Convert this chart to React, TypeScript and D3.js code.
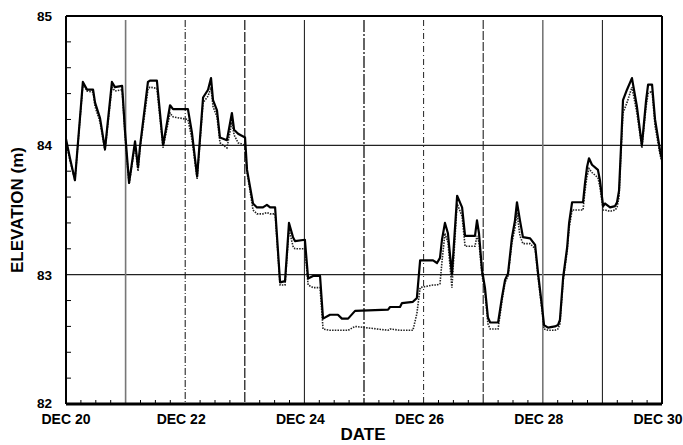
import React from 'react';
import * as d3 from 'd3';

// hours since DEC 20 00:00
const hours = [
  0, 1.6, 3.6, 6.8, 8.5, 10.9, 11.7, 13.7, 15.7, 18.5, 19.7, 22.6, 23.8, 25.4, 27.8, 29.0, 29.8,
  33.0, 33.8, 36.6, 39.1, 41.9, 43.1, 49.1, 50.7, 52.8, 55.2, 57.2, 58.4, 59.2, 60.8, 62.0, 64.8,
  66.8, 67.7, 69.3, 72.1, 72.9, 74.1, 75.3, 76.9, 79.3, 80.9, 82.2, 84.2, 86.2, 88.2, 89.8, 91.4,
  92.2, 96.2, 97.5, 99.5, 102.3, 103.5, 106.3, 109.5, 111.1, 113.6, 116.4, 129.7, 130.5, 134.5,
  135.3, 139.7, 141.3, 142.6, 147.8, 149.4, 150.6, 151.4, 152.6, 153.8, 155.4, 157.5, 159.5, 160.7,
  164.7, 165.5, 166.3, 167.5, 168.7, 169.9, 170.8, 174.0, 175.6, 176.8, 178.0, 179.6, 180.8, 181.6,
  182.8, 184.0, 186.9, 188.9, 190.1, 191.7, 192.5, 194.1, 196.9, 198.1, 198.9, 200.2, 201.8, 202.6,
  203.8, 208.2, 209.0, 209.8, 210.6, 211.8, 214.2, 215.0, 216.3, 217.1, 219.1, 221.1, 221.9, 222.7,
  223.5, 224.3, 225.9, 227.9, 229.9, 231.9, 233.6, 234.4, 236.0, 237.2, 239.2, 240.0,
];

const solidElev = [
  84.05, 83.9, 83.73, 84.49, 84.43, 84.43, 84.33, 84.21, 83.97, 84.49, 84.45, 84.46, 84.1, 83.71, 84.03, 83.83, 83.99,
  84.49, 84.5, 84.5, 84.0, 84.31, 84.28, 84.28, 84.1, 83.76, 84.37, 84.43, 84.52, 84.35, 84.27, 84.06, 84.04,
  84.25, 84.12, 84.09, 84.06, 83.81, 83.68, 83.55, 83.52, 83.52, 83.54, 83.52, 83.52, 82.94, 82.95, 83.4, 83.29,
  83.26, 83.27, 82.97, 82.99, 82.99, 82.66, 82.69, 82.69, 82.66, 82.66, 82.72, 82.73, 82.75, 82.75,
  82.78, 82.79, 82.82, 83.11, 83.11, 83.09, 83.13, 83.27, 83.4, 83.32, 83.0, 83.61, 83.52, 83.3,
  83.3, 83.42, 83.32, 83.04, 82.9, 82.67, 82.63, 82.63, 82.83, 82.96, 83.01, 83.29, 83.42, 83.56,
  83.42, 83.29, 83.28, 83.23, 83.01, 82.75, 82.61, 82.59, 82.6, 82.61, 82.65, 82.98, 83.21, 83.4,
  83.56, 83.56, 83.71, 83.83, 83.9, 83.85, 83.81, 83.73, 83.53, 83.55, 83.52, 83.53, 83.56, 83.65,
  83.99, 84.35, 84.43, 84.52, 84.3, 84.0, 84.35, 84.47, 84.47, 84.2, 83.96, 83.89,
];

const dottedElev = [
  84.03, 83.88, 83.73, 84.47, 84.42, 84.41, 84.3, 84.18, 83.96, 84.45, 84.42, 84.43, 84.07, 83.7, 84.0, 83.8, 83.97,
  84.43, 84.45, 84.44, 83.98, 84.25, 84.22, 84.2, 84.05, 83.74, 84.33, 84.38, 84.45, 84.3, 84.22, 84.02, 83.98,
  84.18, 84.08, 84.02, 84.0, 83.79, 83.65, 83.5, 83.47, 83.47, 83.48, 83.47, 83.47, 82.92, 82.92, 83.35, 83.22,
  83.2, 83.2, 82.92, 82.9, 82.9, 82.58, 82.57, 82.57, 82.57, 82.57, 82.6, 82.57, 82.58, 82.57,
  82.57, 82.57, 82.7, 82.9, 82.92, 82.92, 82.93, 83.1, 83.32, 83.25, 82.9, 83.55, 83.45, 83.22,
  83.22, 83.3, 83.25, 83.0, 82.87, 82.62, 82.58, 82.58, 82.8, 82.94, 82.99, 83.25, 83.36, 83.48,
  83.3, 83.24, 83.24, 83.2, 82.98, 82.72, 82.58, 82.57, 82.57, 82.58, 82.62, 82.95, 83.18, 83.36,
  83.5, 83.5, 83.65, 83.76, 83.82, 83.79, 83.75, 83.68, 83.5, 83.5, 83.49, 83.5, 83.52, 83.6,
  83.95, 84.25, 84.33, 84.45, 84.25, 83.98, 84.3, 84.4, 84.42, 84.15, 83.93, 83.87,
];

const yTickValues = [82, 83, 84, 85];
const dateTickHours = [0, 48, 96, 144, 192, 240];
const dateTickLabels = ['DEC 20', 'DEC 22', 'DEC 24', 'DEC 26', 'DEC 28', 'DEC 30'];
const dayLineHours = [24, 48, 72, 96, 120, 144, 168, 192, 216];
const dayLineStyles = [
  { stroke: '#777', dash: '', w: 1.6 },
  { stroke: '#111', dash: '7,2,1,2', w: 1 },
  { stroke: '#111', dash: '10,2', w: 1.2 },
  { stroke: '#111', dash: '', w: 1 },
  { stroke: '#111', dash: '12,2,2,2', w: 1.3 },
  { stroke: '#222', dash: '6,3,1,3', w: 1 },
  { stroke: '#222', dash: '9,2', w: 1.1 },
  { stroke: '#777', dash: '', w: 1.6 },
  { stroke: '#111', dash: '', w: 1 },
];
const gridElev = [83, 84];

const L = 66, R = 662, T = 16, B = 404;

export default function App() {
  const x = d3.scaleLinear().domain([0, 240]).range([L, R]);
  const y = d3.scaleLinear().domain([82, 85]).range([B, T]);
  const line = d3.line<number>().x((_, i) => x(hours[i])).y((d) => y(d));
  const minorY = d3.range(82, 85.001, 0.2).filter((v) => Math.abs(v - Math.round(v)) > 0.01);
  const minorX = d3.range(6, 240, 6).filter((h) => h % 24 !== 0);
  const font = 'Liberation Sans, Arial, sans-serif';

  return (
    <svg width={683} height={445} style={{ position: 'absolute', left: 0, top: 0, background: '#fff' }}>
      <rect x={0} y={0} width={683} height={445} fill="#fff" />
      {gridElev.map((v) => (
        <line key={'g' + v} x1={L} x2={R} y1={y(v)} y2={y(v)} stroke="#222" strokeWidth={1.2} />
      ))}
      {dayLineHours.map((h, i) => (
        <line
          key={'d' + h}
          x1={x(h)}
          x2={x(h)}
          y1={T + 4}
          y2={B}
          stroke={dayLineStyles[i].stroke}
          strokeWidth={dayLineStyles[i].w}
          strokeDasharray={dayLineStyles[i].dash}
        />
      ))}
      {minorY.map((v) => (
        <line key={'my' + v} x1={L} x2={L + 5} y1={y(v)} y2={y(v)} stroke="#000" strokeWidth={1} />
      ))}
      {minorX.map((h) => (
        <line key={'mx' + h} x1={x(h)} x2={x(h)} y1={B} y2={B - 4} stroke="#000" strokeWidth={1} />
      ))}
      <path d={line(dottedElev) || ''} fill="none" stroke="#222" strokeWidth={1.6} strokeDasharray="1.5,1.2" />
      <path d={line(solidElev) || ''} fill="none" stroke="#000" strokeWidth={2.2} strokeLinejoin="round" />
      <line x1={L} x2={R} y1={T} y2={T} stroke="#000" strokeWidth={2} />
      <line x1={L} x2={L} y1={T} y2={B} stroke="#000" strokeWidth={2} />
      <line x1={R} x2={R} y1={T} y2={B} stroke="#000" strokeWidth={2} />
      <line x1={L} x2={R} y1={B} y2={B} stroke="#000" strokeWidth={3} />
      {yTickValues.map((v) => (
        <text
          key={'yl' + v}
          x={52}
          y={y(v) + (v === 82 ? 4 : 5)}
          textAnchor="end"
          fontFamily={font}
          fontWeight="bold"
          fontSize={13.5}
        >
          {v}
        </text>
      ))}
      {dateTickHours.map((h, i) => (
        <text
          key={'xl' + h}
          x={x(h) - (i === 0 ? 0 : 4)}
          y={424}
          textAnchor="middle"
          fontFamily={font}
          fontWeight="bold"
          fontSize={14}
        >
          {dateTickLabels[i]}
        </text>
      ))}
      <text x={363} y={440} textAnchor="middle" fontFamily={font} fontWeight="bold" fontSize={17}>
        DATE
      </text>
      <text
        transform="translate(23,210) rotate(-90)"
        textAnchor="middle"
        fontFamily={font}
        fontWeight="bold"
        fontSize={17}
      >
        ELEVATION (m)
      </text>
    </svg>
  );
}
